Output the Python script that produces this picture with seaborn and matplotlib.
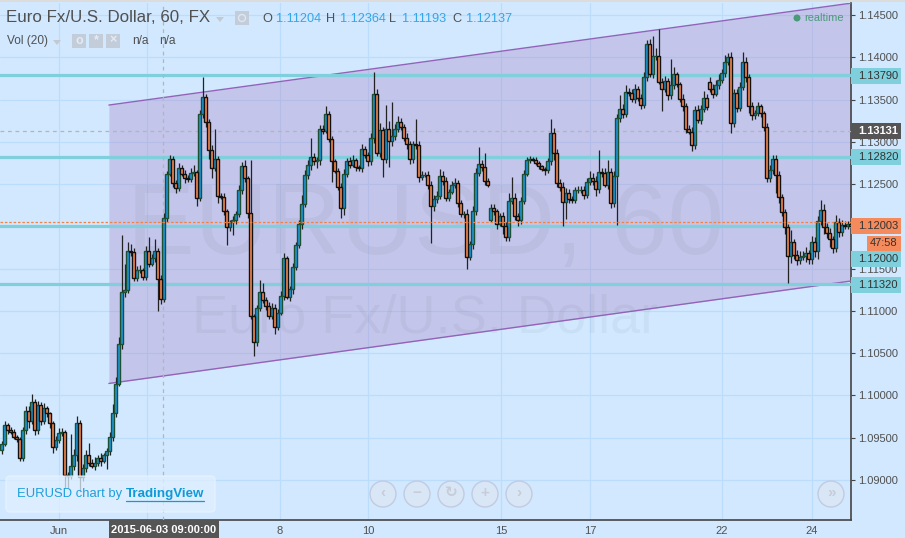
import numpy as np
import pandas as pd
import seaborn as sns
import matplotlib.pyplot as plt
from matplotlib.patches import Rectangle, FancyBboxPatch, Circle, Polygon

# hourly candles, one every 3 px
close = [
    1.0943, 1.0965, 1.0959, 1.0957, 1.0951, 1.0948, 1.0926, 1.0959, 1.0982, 1.0970,
    1.0992, 1.0959, 1.0989, 1.0970, 1.0985, 1.0979, 1.0967, 1.0939, 1.0947, 1.0956,
    1.0957, 1.0906, 1.0905, 1.0917, 1.0929, 1.0967, 1.0903, 1.0914, 1.0929, 1.0920,
    1.0917, 1.0920, 1.0926, 1.0923, 1.0929, 1.0934, 1.0951, 1.0979, 1.1014, 1.1061,
    1.1122, 1.1125, 1.1171, 1.1170, 1.1139, 1.1148, 1.1148, 1.1140, 1.1171, 1.1156,
    1.1163, 1.1171, 1.1138, 1.1114, 1.1210, 1.1262, 1.1280, 1.1251, 1.1245, 1.1269,
    1.1262, 1.1257, 1.1256, 1.1263, 1.1264, 1.1234, 1.1333, 1.1353, 1.1324, 1.1290,
    1.1269, 1.1280, 1.1236, 1.1235, 1.1218, 1.1199, 1.1205, 1.1208, 1.1215, 1.1243,
    1.1271, 1.1257, 1.1216, 1.1094, 1.1063, 1.1104, 1.1122, 1.1113, 1.1106, 1.1094,
    1.1104, 1.1081, 1.1098, 1.1118, 1.1162, 1.1117, 1.1126, 1.1152, 1.1178, 1.1203,
    1.1227, 1.1261, 1.1272, 1.1282, 1.1277, 1.1278, 1.1315, 1.1313, 1.1333, 1.1303,
    1.1277, 1.1266, 1.1247, 1.1222, 1.1262, 1.1277, 1.1273, 1.1278, 1.1270, 1.1269,
    1.1291, 1.1285, 1.1277, 1.1304, 1.1356, 1.1287, 1.1314, 1.1280, 1.1315, 1.1301,
    1.1307, 1.1315, 1.1324, 1.1318, 1.1305, 1.1297, 1.1280, 1.1297, 1.1296, 1.1258,
    1.1261, 1.1261, 1.1249, 1.1224, 1.1232, 1.1236, 1.1260, 1.1254, 1.1234, 1.1241,
    1.1249, 1.1251, 1.1228, 1.1215, 1.1215, 1.1164, 1.1179, 1.1218, 1.1263, 1.1274,
    1.1270, 1.1254, 1.1249, 1.1222, 1.1218, 1.1203, 1.1212, 1.1201, 1.1188, 1.1230,
    1.1234, 1.1212, 1.1208, 1.1230, 1.1262, 1.1278, 1.1280, 1.1279, 1.1275, 1.1271,
    1.1268, 1.1267, 1.1277, 1.1310, 1.1287, 1.1251, 1.1247, 1.1229, 1.1239, 1.1232,
    1.1231, 1.1243, 1.1243, 1.1243, 1.1237, 1.1252, 1.1257, 1.1254, 1.1244, 1.1264,
    1.1263, 1.1249, 1.1264, 1.1228, 1.1260, 1.1328, 1.1339, 1.1333, 1.1359, 1.1358,
    1.1351, 1.1362, 1.1352, 1.1344, 1.1377, 1.1416, 1.1380, 1.1401, 1.1402, 1.1371,
    1.1363, 1.1372, 1.1355, 1.1367, 1.1380, 1.1368, 1.1351, 1.1342, 1.1315, 1.1312,
    1.1296, 1.1338, 1.1326, 1.1339, 1.1352, 1.1341, 1.1363, 1.1357, 1.1367, 1.1373,
    1.1381, 1.1395, 1.1400, 1.1322, 1.1358, 1.1340, 1.1365, 1.1395, 1.1377, 1.1342,
    1.1332, 1.1334, 1.1342, 1.1334, 1.1317, 1.1257, 1.1267, 1.1280, 1.1261, 1.1235,
    1.1217, 1.1199, 1.1165, 1.1181, 1.1166, 1.1160, 1.1164, 1.1165, 1.1168, 1.1161,
    1.1181, 1.1171, 1.1206, 1.1219, 1.1199, 1.1192, 1.1185, 1.1174, 1.1205, 1.1193,
    1.1202, 1.1200, 1.1203, 1.1200,
]

# wick lengths above / below the body, in pips
upper_wick = [
    3, 5, 2, 4, 3, 2, 3, 4, 6, 5,
    10, 4, 5, 3, 6, 3, 2, 3, 5, 6,
    4, 2, 3, 38, 8, 9, 4, 5, 6, 15,
    5, 7, 4, 6, 3, 4, 6, 11, 8, 8,
    68, 30, 10, 8, 4, 5, 6, 3, 6, 16,
    4, 14, 3, 4, 6, 3, 4, 3, 4, 6,
    3, 5, 4, 6, 8, 3, 5, 24, 4, 3,
    6, 35, 3, 4, 4, 3, 3, 4, 3, 6,
    5, 8, 3, 62, 2, 3, 14, 11, 4, 4,
    5, 4, 4, 5, 6, 3, 3, 5, 4, 4,
    10, 6, 6, 22, 5, 4, 5, 5, 9, 3,
    4, 3, 3, 4, 6, 4, 5, 6, 3, 3,
    6, 4, 3, 7, 27, 6, 8, 4, 28, 10,
    40, 6, 7, 4, 3, 5, 4, 4, 30, 5,
    4, 3, 4, 5, 5, 6, 8, 5, 4, 3,
    5, 6, 4, 3, 3, 5, 4, 6, 6, 20,
    4, 17, 3, 4, 5, 3, 4, 5, 4, 10,
    24, 5, 4, 5, 5, 4, 3, 2, 3, 2,
    2, 2, 4, 17, 6, 4, 5, 5, 6, 5,
    4, 4, 5, 5, 5, 5, 8, 6, 5, 26,
    5, 6, 15, 5, 6, 5, 16, 6, 8, 5,
    5, 6, 4, 5, 6, 5, 6, 24, 9, 32,
    5, 6, 4, 31, 8, 3, 3, 5, 4, 5,
    5, 4, 6, 5, 8, 5, 6, 5, 6, 7,
    5, 8, 5, 6, 5, 4, 6, 11, 5, 3,
    5, 4, 5, 3, 3, 5, 6, 5, 4, 4,
    3, 4, 4, 15, 4, 6, 7, 6, 8, 4,
    8, 6, 6, 12, 8, 5, 6, 4, 9, 5,
    5, 4, 3, 5,
]
lower_wick = [
    4, 3, 4, 3, 2, 3, 3, 4, 5, 8,
    4, 6, 5, 5, 4, 4, 5, 7, 4, 3,
    4, 15, 15, 4, 5, 6, 16, 4, 4, 4,
    3, 5, 4, 6, 3, 16, 5, 5, 4, 3,
    6, 5, 4, 5, 4, 4, 3, 4, 4, 4,
    3, 5, 38, 6, 4, 5, 3, 4, 6, 3,
    3, 6, 4, 3, 3, 10, 4, 5, 6, 10,
    12, 4, 8, 3, 5, 21, 4, 15, 5, 4,
    5, 4, 6, 3, 16, 5, 4, 4, 5, 4,
    4, 8, 4, 3, 5, 3, 5, 6, 4, 3,
    6, 4, 5, 5, 4, 8, 5, 4, 3, 3,
    25, 3, 4, 12, 8, 4, 4, 3, 5, 4,
    5, 4, 6, 4, 5, 4, 5, 22, 5, 31,
    6, 5, 3, 4, 4, 5, 6, 5, 4, 5,
    3, 3, 5, 44, 6, 4, 4, 5, 4, 4,
    3, 4, 5, 4, 5, 14, 4, 6, 5, 4,
    4, 5, 3, 3, 5, 6, 3, 10, 5, 5,
    4, 5, 8, 5, 4, 3, 3, 2, 3, 3,
    3, 6, 4, 4, 8, 4, 5, 28, 20, 4,
    3, 3, 4, 3, 5, 4, 3, 5, 8, 4,
    5, 3, 5, 6, 5, 58, 5, 5, 4, 4,
    4, 5, 4, 5, 4, 5, 3, 4, 4, 3,
    26, 4, 5, 4, 5, 3, 4, 5, 4, 3,
    7, 5, 4, 5, 4, 3, 4, 5, 3, 4,
    3, 4, 4, 12, 5, 5, 4, 4, 6, 8,
    6, 5, 4, 5, 4, 4, 5, 5, 21, 7,
    5, 8, 32, 8, 5, 6, 5, 4, 7, 6,
    5, 7, 10, 4, 8, 6, 9, 5, 4, 6,
    4, 3, 3, 2,
]

first_open = 1.0935
gap_opens = {163: 1.1208, 236: 1.1371}

levels = [1.1379, 1.1282, 1.1200, 1.1132]
channel_top = [1.13435, 1.1464]
channel_bottom = [1.10142, 1.11354]
channel_bars = [36.3, 283.7]

price_ticks = [1.145, 1.14, 1.135, 1.13, 1.125, 1.12, 1.115, 1.11, 1.105, 1.10, 1.095, 1.09]
price_tick_labels = ['1.14500', '1.14000', '1.13500', '1.13000', '1.12500', '', '1.11500',
                     '1.11000', '1.10500', '1.10000', '1.09500', '1.09000']
day_ticks = [19.5, 49, 93.3, 122.7, 167, 196.7, 240.7, 270.7]
day_labels = ['Jun', '', '8', '10', '15', '17', '22', '24']
crosshair_bar = 54.4
crosshair_price = 1.13131
last_price = 1.1205

BG = '#d1e8ff'
GRID = '#bcdcfb'
TEAL = '#7fcfdc'
TEXT = '#505050'

sns.set_theme(style='white', rc={'axes.facecolor': BG, 'figure.facecolor': BG})
plt.rcParams['font.family'] = ['Liberation Sans', 'DejaVu Sans']

fig = plt.figure(figsize=(9.05, 5.38), dpi=100)
ax = fig.add_axes([0, 18 / 538, 851 / 905, 517 / 538])

close = np.array(close)
opens = np.roll(close, 1)
opens[0] = first_open
for k, v in gap_opens.items():
    opens[k] = v
high = np.maximum(opens, close) + np.array(upper_wick) * 0.0001
low = np.minimum(opens, close) - np.array(lower_wick) * 0.0001
bars = np.arange(len(close)) + 0.5
rising = close >= opens

ax.set_xlim(0, 851 / 3)
ax.set_ylim(1.08527, 1.14642)

# grid
for t in price_ticks:
    ax.axhline(t, color=GRID, lw=0.8, zorder=1)
for t in day_ticks:
    ax.axvline(t, color=GRID, lw=0.8, zorder=1)

# channel
ax.fill_between(channel_bars, channel_bottom, channel_top, color='#a377bc', alpha=0.3, lw=0, zorder=2)
edges = pd.DataFrame({
    'bar': channel_bars * 2,
    'price': channel_top + channel_bottom,
    'edge': ['top', 'top', 'bottom', 'bottom'],
})
sns.lineplot(data=edges, x='bar', y='price', units='edge', estimator=None, color='#9263b8',
             lw=1.0, ax=ax, zorder=3, legend=False)

# watermark
ax.text(0.5, 0.565, 'EURUSD, 60', transform=ax.transAxes, ha='center', va='center',
        fontsize=73, color='#000000', alpha=0.035, zorder=2)
ax.text(0.5, 0.39, 'Euro Fx/U.S. Dollar', transform=ax.transAxes, ha='center', va='center',
        fontsize=39, color='#000000', alpha=0.035, zorder=2)

# levels and crosshair
levels_df = pd.DataFrame({
    'bar': [0, 851 / 3] * len(levels),
    'price': np.repeat(levels, 2),
    'level': np.repeat(levels, 2),
})
sns.lineplot(data=levels_df, x='bar', y='price', units='level', estimator=None, color=TEAL,
             lw=2.3, ax=ax, zorder=4, legend=False)
ax.axvline(crosshair_bar, color='#b5b5b5', lw=0.9, ls=(0, (3, 3)), zorder=5)
ax.axhline(crosshair_price, color='#b5b5b5', lw=0.9, ls=(0, (3, 3)), zorder=5)
ax.axhline(last_price, color='#f4813f', lw=0.9, ls=(0, (2, 1.5)), zorder=8)

# candles
ax.vlines(bars, low, high, color='#222222', lw=0.9, zorder=6)
ax.bar(bars[rising], (close - opens)[rising], bottom=opens[rising], width=0.9,
       color='#1f97dd', edgecolor='#1d4f33', lw=1.0, zorder=7)
ax.bar(bars[~rising], (close - opens)[~rising], bottom=opens[~rising], width=0.9,
       color='#fb8a50', edgecolor='#111111', lw=1.0, zorder=7)

# axes
sns.despine(ax=ax, top=True, left=True, right=False, bottom=False)
for side in ['right', 'bottom']:
    ax.spines[side].set_color('#444444')
    ax.spines[side].set_linewidth(1.2)
ax.yaxis.tick_right()
ax.set_yticks(price_ticks)
ax.set_yticklabels(price_tick_labels)
ax.set_xticks(day_ticks)
ax.set_xticklabels(day_labels)
ax.tick_params(axis='y', length=3, width=0.8, color='#444444', labelcolor=TEXT, labelsize=8, pad=2)
ax.tick_params(axis='x', length=3, width=0.8, color='#444444', labelcolor=TEXT, labelsize=8, pad=1)
ax.set_xlabel('')
ax.set_ylabel('')

# page chrome drawn in pixel coordinates
ui = fig.add_axes([0, 0, 1, 1], facecolor='none')
ui.set_xlim(0, 905)
ui.set_ylim(538, 0)
ui.axis('off')
ui.add_patch(Rectangle((0, 0), 905, 2, color='#dcdcdc', lw=0))

# price tags
tags = [(76, '1.13790', TEAL, '#333333', 'normal'), (131, '1.13131', '#555555', 'white', 'bold'),
        (157, '1.12820', TEAL, '#333333', 'normal'), (226, '1.12003', '#f58a5c', '#333333', 'normal'),
        (259, '1.12000', TEAL, '#333333', 'normal'), (285, '1.11320', TEAL, '#333333', 'normal')]
for y, txt, bg, fg, weight in tags:
    ui.add_patch(Rectangle((851, y - 8), 50, 16, color=bg, lw=0))
    ui.text(858, y, txt, ha='left', va='center', fontsize=8, color=fg, weight=weight)
ui.add_patch(Rectangle((867, 236), 34, 15, color='#f58a5c', lw=0))
ui.text(884, 243.5, '47:58', ha='center', va='center', fontsize=8, color='#333333')

# date tag under the crosshair
ui.add_patch(Rectangle((109, 520), 110, 18, color='#555555', lw=0))
ui.text(164, 530, '2015-06-03 09:00:00', ha='center', va='center', fontsize=8, color='white', weight='bold')

# header
ui.text(6, 18, 'Euro Fx/U.S. Dollar, 60, FX', ha='left', va='center', fontsize=12.2, color=TEXT)
ui.add_patch(Polygon([[216, 17], [224, 17], [220, 22]], color='#c3c9d0', lw=0))
ui.add_patch(Rectangle((235, 11), 14, 14, color='#c3cdda', lw=0))
ui.add_patch(Circle((242, 18), 3.5, fc='none', ec='#dde6f2', lw=1))
ui.text(7, 41, 'Vol (20)', ha='left', va='center', fontsize=8.6, color=TEXT)
ui.add_patch(Polygon([[53, 40], [61, 40], [57, 45]], color='#c3c9d0', lw=0))
for bx, glyph in zip([72, 89, 106], ['o', '*', '×']):
    ui.add_patch(Rectangle((bx, 34), 14, 14, color='#c3cdda', lw=0))
    ui.text(bx + 7, 40.5, glyph, ha='center', va='center', fontsize=9, color='#e4ebf5', weight='bold')
ui.text(132, 41, 'n/a', ha='left', va='center', fontsize=8.6, color=TEXT)
ui.text(159, 41, 'n/a', ha='left', va='center', fontsize=8.6, color=TEXT)

ohlc = [('O', 262, '1.11204', 276), ('H', 326, '1.12364', 340), ('L', 389, '1.11193', 402), ('C', 452, '1.12137', 466)]
for name, nx, val, vx in ohlc:
    ui.text(nx, 19, name, ha='left', va='center', fontsize=9.2, color=TEXT)
    ui.text(vx, 19, val, ha='left', va='center', fontsize=9.2, color='#35a6e6')

ui.add_patch(Circle((797, 18), 3.5, color='#4a9a7a', lw=0))
ui.text(804, 18, 'realtime', ha='left', va='center', fontsize=7.9, color='#4a9a7a')

# badge
ui.add_patch(FancyBboxPatch((8, 478), 205, 32, boxstyle='round,pad=2,rounding_size=4',
                            fc='#e0f0ff', ec='#e8f4ff', lw=1, alpha=0.75))
ui.text(17, 494, 'EURUSD chart by ', ha='left', va='center', fontsize=9.4, color='#1e9fdc')
ui.text(126, 494, 'TradingView', ha='left', va='center', fontsize=9.6, color='#0f9bd7', weight='bold')
ui.plot([126, 204], [500.5, 500.5], color='#0f9bd7', lw=0.9)

# nav buttons
nav = [(383, '‹'), (417, '−'), (451, '↻'), (485, '+'), (519, '›'), (831, '»')]
for cx, glyph in nav:
    ui.add_patch(Circle((cx, 494), 13, fc='#d9e6f6', ec='#c2cbe1', lw=1))
    ui.text(cx, 493, glyph, ha='center', va='center', fontsize=11, color='#c6cdd9', weight='bold')

fig.savefig('out.png', dpi=100, facecolor=BG)
